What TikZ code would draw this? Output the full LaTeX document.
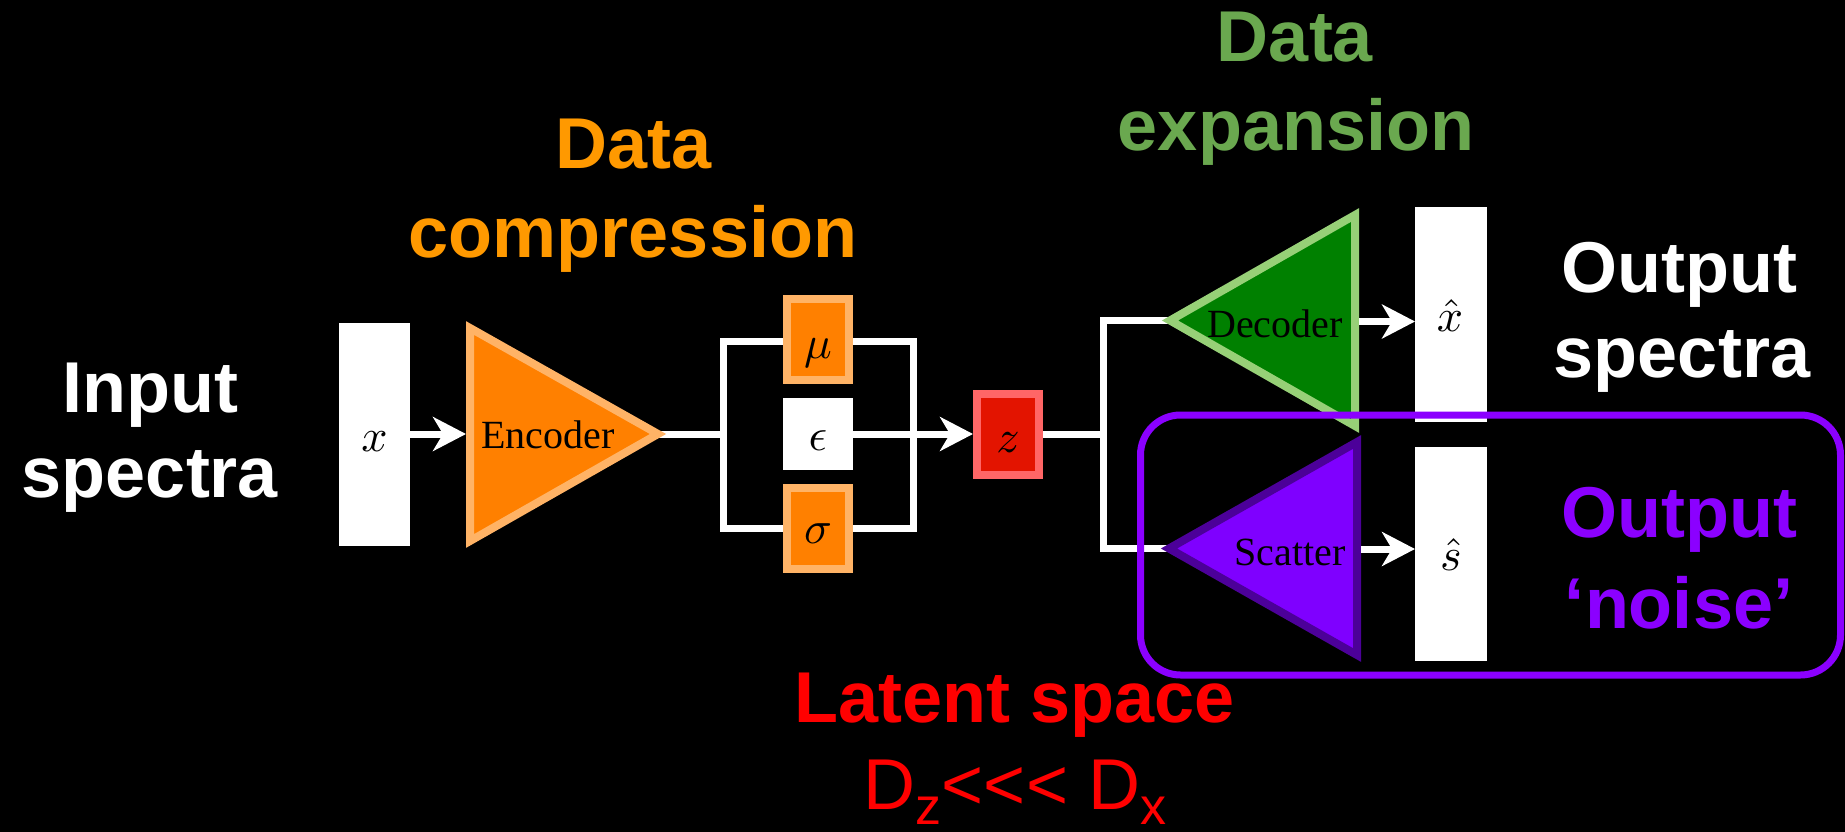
\documentclass[tikz,border=0pt]{standalone}
\usepackage[no-math]{fontspec}
\usepackage{graphicx}
\setmainfont{Liberation Sans}
\newfontfamily\serifface{Liberation Serif}
\usetikzlibrary{arrows.meta}
\newcommand\mysym[1]{\scalebox{4.6}{$#1$}}
\definecolor{encfill}{HTML}{FF8000}
\definecolor{encline}{HTML}{FFB366}
\definecolor{zfill}{HTML}{E31400}
\definecolor{zline}{HTML}{FF6666}
\definecolor{decfill}{HTML}{008000}
\definecolor{decline}{HTML}{97D077}
\definecolor{scafill}{HTML}{7F00FF}
\definecolor{scaline}{HTML}{4C0099}
\definecolor{orangeT}{HTML}{FF9900}
\definecolor{greenT}{HTML}{6AA84F}
\definecolor{purp}{HTML}{8B00FF}
\definecolor{redT}{HTML}{FF0000}
\begin{document}
\begin{tikzpicture}[x=1pt,y=-1pt,
  wire/.style={draw=white,line width=7pt},
  arr/.style={wire,-{Stealth[length=33pt,width=34pt,inset=10pt]}},
  whitebox/.style={fill=white,draw=none,inner sep=0pt,outer sep=0pt},
  cellbox/.style={line width=8pt,inner sep=0pt,minimum width=62pt,minimum height=81pt},
  sym/.style={anchor=base,inner sep=0pt,font=\fontsize{10}{12}\selectfont},
  tlabel/.style={anchor=base,inner sep=0pt,font=\serifface\fontsize{40}{48}\selectfont},
  big/.style={anchor=base,inner sep=0pt,font=\fontsize{72}{86}\selectfont\bfseries},
  enctri/.style={fill=encfill,draw=encline,line width=8pt},
  dectri/.style={fill=decfill,draw=decline,line width=8pt},
  scatri/.style={fill=scafill,draw=scaline,line width=8pt},
]
\fill[black] (0,0) rectangle (1845,832);
\useasboundingbox (0,0) rectangle (1845,832);

% input
\node[whitebox,minimum width=71pt,minimum height=223pt] (xin) at (374.5,434.5) {};
\node[sym] (xinl) at (374.5,451) {\mysym{x}};

% encoder
\coordinate (encA) at (470,328);
\coordinate (encB) at (470,541);
\coordinate (encT) at (658,434);
\coordinate (encIn) at (466,434);
\draw[arr] (xin.east |- encIn) -- (encIn);

% bracket and latent parameters
\node[draw=white,line width=7pt,minimum width=190pt,minimum height=187pt,inner sep=0pt] (br) at (818,434.5) {};
\draw[wire] (encT) -- (br.west |- encT);
\draw[enctri] (encA) -- (encT) -- (encB) -- cycle;
\node[tlabel] (encl) at (548,448) {Encoder};

\node[cellbox,fill=encfill,draw=encline] (mu) at (818,339.5) {};
\node[sym] (mul) at (818,358) {\mysym{\mu}};
\node[whitebox,minimum width=70pt,minimum height=72pt] (eps) at (818,434) {};
\node[sym] (epsl) at (818,450) {\mysym{\epsilon}};
\node[cellbox,fill=encfill,draw=encline] (sig) at (818,528.5) {};
\node[sym] (sigl) at (818,543) {\mysym{\sigma}};

% z
\node[cellbox,fill=zfill,draw=zline] (z) at (1008,434.5) {};
\node[sym] (zl) at (1008,452) {\mysym{z}};
\draw[arr] (eps.east) -- (z.west |- eps.east);

% split to decoder / scatter
\coordinate (sp) at (1103,434.5);
\coordinate (decT) at (1170,320.5);
\coordinate (decA) at (1355,215);
\coordinate (decB) at (1355,426);
\coordinate (decR) at (1359,321.5);
\coordinate (scaT) at (1169,548.5);
\coordinate (scaA) at (1357,442);
\coordinate (scaB) at (1357,655);
\coordinate (scaR) at (1361,549);
\draw[wire] (z.east) -- (sp);
\draw[wire] (decT) -| (sp) |- (scaT);
\draw[dectri] (decT) -- (decA) -- (decB) -- cycle;
\draw[scatri] (scaT) -- (scaA) -- (scaB) -- cycle;
\node[tlabel] (decl) at (1275,337) {Decoder};
\node[tlabel] (scal) at (1290,565) {Scatter};

% outputs
\node[whitebox,minimum width=72pt,minimum height=215pt] (xhat) at (1451,314.5) {};
\node[sym] (xhatl) at (1450,331) {\mysym{\hat{x}}};
\node[whitebox,minimum width=72pt,minimum height=214pt] (shat) at (1451,554) {};
\node[sym] (shatl) at (1451,570) {\mysym{\hat{s}}};
\draw[arr] (decR) -- (xhat.west |- decR);
\draw[arr] (scaR) -- (shat.west |- scaR);

% big labels
\node[big,white] (in1) at (150,412) {Input};
\node[big,white] (in2) at (150,497) {spectra};
\node[big,orangeT] (dc1) at (634,168) {Data};
\node[big,orangeT] (dc2) at (633,257) {compression};
\node[big,greenT] (de1) at (1295,62) {Data};
\node[big,greenT] (de2) at (1296,150) {expansion};
\node[big,white] (os1) at (1679,292) {Output};
\node[big,white] (os2) at (1682,377) {spectra};
\node[big,purp] (on1) at (1679,537) {Output};
\node[big,purp] (on2) at (1679,628) {‘noise’};
\node[big,redT] (ls1) at (1015,722) {Latent space};
\node[anchor=base,inner sep=0pt,redT,font=\fontsize{72}{86}\selectfont] (ls2) at (1015,809)
  {D\raisebox{-15pt}{\fontsize{52}{52}\selectfont z}<{}<{}< D\raisebox{-15pt}{\fontsize{52}{52}\selectfont x}};

% noise frame
\node[draw=purp,line width=7pt,rounded corners=40pt,minimum width=700pt,minimum height=260pt,inner sep=0pt] (noisebox) at (1490.5,545) {};
\end{tikzpicture}
\end{document}
